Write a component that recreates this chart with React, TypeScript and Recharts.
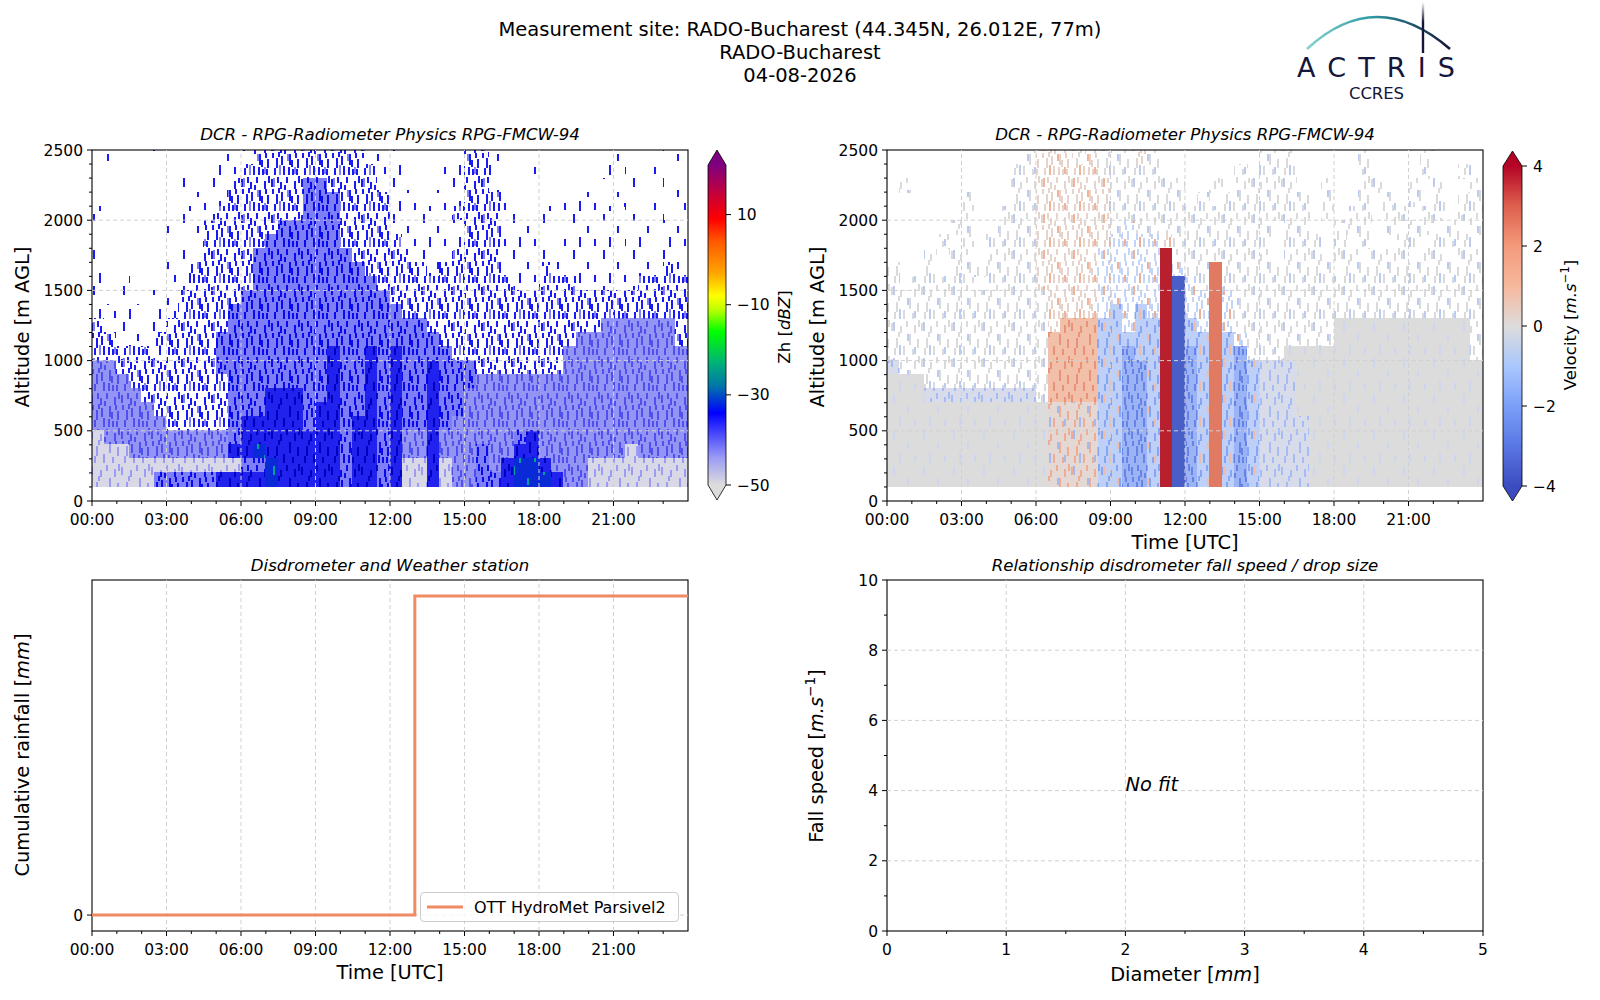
import React from 'react';
import {
  ComposedChart, Line, Scatter, XAxis, YAxis, ReferenceArea, ReferenceLine, Legend,
} from 'recharts';

const FONT = '"DejaVu Sans", sans-serif';
const TICK_FS = 15.5;
const LABEL_FS = 19.4;
const TITLE_FS = 16.6;
const GRID = '#d0d0d0';

// ---- axis ticks ----
const hourMajor = [0, 3, 6, 9, 12, 15, 18, 21];
const hourMinor = [0, 1, 2, 3, 4, 5, 6, 7, 8, 9, 10, 11, 12, 13, 14, 15, 16, 17, 18, 19, 20, 21, 22, 23];
const altMajor = [0, 500, 1000, 1500, 2000, 2500];
const altMinor = [0, 100, 200, 300, 400, 500, 600, 700, 800, 900, 1000, 1100, 1200, 1300, 1400, 1500,
  1600, 1700, 1800, 1900, 2000, 2100, 2200, 2300, 2400, 2500];
const diamMajor = [0, 1, 2, 3, 4, 5];
const diamMinor = [0, 0.5, 1, 1.5, 2, 2.5, 3, 3.5, 4, 4.5, 5];
const speedMajor = [0, 2, 4, 6, 8, 10];
const speedMinor = [0, 1, 2, 3, 4, 5, 6, 7, 8, 9, 10];
const zhTicks = [-50, -30, -10, 10];
const velTicks = [-4, -2, 0, 2, 4];

// ---- radar grid: 30 min x 100 m bins ----
const timeEdges = [0, 0.5, 1, 1.5, 2, 2.5, 3, 3.5, 4, 4.5, 5, 5.5, 6, 6.5, 7, 7.5, 8, 8.5, 9, 9.5, 10, 10.5,
  11, 11.5, 12, 12.5, 13, 13.5, 14, 14.5, 15, 15.5, 16, 16.5, 17, 17.5, 18, 18.5, 19, 19.5, 20, 20.5,
  21, 21.5, 22, 22.5, 23, 23.5, 24];
const altEdges = [2500, 2400, 2300, 2200, 2100, 2000, 1900, 1800, 1700, 1600, 1500, 1400, 1300,
  1200, 1100, 1000, 900, 800, 700, 600, 500, 400, 300, 200, 100];

// reflectivity classes: . none, 1 sparse, 2 scattered, 3 dense, 4 strong, 5 weak grey, 6 lavender, 7 core
const zhRows = [
  '.1..1... ..111222 22222211 1...1.22 1....... ..1..1.1',
  '........ ..112222 22222221 1...1122 1..1.... .1.1.1..',
  '.......1 .1122222 23322221 11.11122 1....... ...1.1.1',
  '........ 11122222 23332222 1.1.1122 21....11 1.1..1.1',
  '1......1 11222222 23332222 11111222 21..1.11 11.1.1.1',
  '......11 12222223 33332222 11111122 21.11.11 1.1.1.11',
  '........ 12222233 33332222 21111122 2111.111 11.11.11',
  '1......1 12222333 33333222 22111222 21111111 11111111',
  '1.....11 22222333 33333322 22212222 21112111 11111121',
  '1.1...11 22222333 33333332 22222222 22112221 11112222',
  '1.1.1112 22223333 33333333 22222222 22222222 22222222',
  '1111.112 22233333 33333333 32222222 22222222 22222222',
  '21111122 22233333 33333333 33322222 22222222 26666662',
  '22111222 22333333 33333333 33332222 22222226 66666662',
  '22222122 22333333 33343343 43333222 22222266 66666666',
  '66222222 22333333 33343343 43343332 22222266 66666666',
  '66622222 22233333 33343343 43343336 66666666 66666666',
  '66662222 22233344 43343343 43343366 66666666 66666666',
  '66666222 22233344 43443343 43343366 66666666 66666666',
  '66666622 22234444 43443443 43343666 66666666 66666666',
  '56666666 66634444 44443443 46646666 66346666 66666666',
  '55566666 66644744 44443443 46646663 66446666 66656666',
  '55555555 55553374 44443443 45545663 64774666 55555555',
  '55555333 33444474 44443443 45545663 34777466 55555555',
];

// velocity classes: s/p/q sparse, g ~0, m slightly negative, k slightly positive,
// b/B negative, D strong negative, r/o positive, R strong positive
const velRows = [
  '........ ...sppps psssps.. ......ss s.....s. ...s....',
  '........ ..sspppp psssss.. ....s.ss s.....s. ...s..s.',
  '.s...... ..sspppp ppssssss ..s.ssss s..s..ss ..s.s..s',
  '......s. ..sspppp ppssssss .s.sssss ss.s..s. s.s.s.ss',
  '......s. .ssspppp ppssssss ssssssss ss.s.ss. ss.ss.ss',
  '.....ss. .ssspppp ppsqssss sssssss. ss..sss. s.ss.s.s',
  '....s.s. sssspppp ppqqqqps sssssss. sss.s.s. .ss.sss.',
  '...s.ss. sssspppp pqqqqqRs sssssss. sss.ss.s ss.ss.ss',
  's..s.sss sssspppp pqqqqqRq ssosssss ssss.sss ssssssss',
  's.sssss. sssspppp pqqqqqRD qsosssss ssssssss ssssssss',
  'ssssssss sssssppp pqqqqqRD qqoqssss ssssssss ssssssss',
  'ssssssss sssssppp pqbqbqRD qqoqssss ssssssss ssssssss',
  'ssssssss sssssprr rbbqbbRD bqoqssss ssssgggg gggggggs',
  'ssssssss sssssrrr rbbbbbRD bbobqsss ssssgggg gggggggs',
  'ssssssss sssssrrr rbbBbbRD BbobBsss gggggggg gggggggs',
  'msssssss sssssrrr rbbBBbRD BbobBbmm mggggggg gggggggg',
  'gggsssss sssssrrr rbbBBbRD BbobBbmm mggggggg gggggggg',
  'gggmmmmm mmmmsrrr rbbBBbRD BbobBbmm mggggggg gggggggg',
  'gggggggg gggggkkk kbbBBbRD BbobBbmm mggggggg gggggggg',
  'gggggggg gggggkkk kbbBBbRD BbobBbmm mmgggggg gggggggg',
  'gggggggg gggggkkk kbbBBbRD BbobBbmm mmgggggg gggggggg',
  'gggggggg gggggkkk kbbBBbRD BbobBbmm mmgggggg gggggggg',
  'gggggggg gggggkkk kbbBBbRD BbobBbmm mmgggggg gggggggg',
  'gggggggg gggggkkk kbbBBbRD BbobBbmm mmgggggg gggggggg',
];

// ---- texture used to paint each class (needle speckle like the radar gates) ----
const NEEDLES_A = [[3, 2, 9], [17, 14, 7], [9, 25, 10], [24, 27, 7]];
const NEEDLES_B = [[1, 3, 8], [6, 18, 10], [10, 6, 7], [13, 26, 9], [16, 1, 6], [19, 14, 11], [22, 29, 6],
  [24, 5, 8], [27, 19, 9], [4, 28, 7], [8, 12, 5], [28, 0, 7]];
const NEEDLES_C = [...NEEDLES_B, [2, 13, 5], [11, 16, 9], [14, 9, 5], [18, 27, 8], [21, 20, 7], [25, 13, 5],
  [26, 29, 6], [7, 1, 6]];

type Texture = { base: string; layers: { set: number[][]; color: string }[] };
const zhTex: Record<string, Texture> = {
  '1': { base: '#ffffff', layers: [{ set: NEEDLES_A, color: '#1a1af4' }] },
  '2': { base: '#ffffff', layers: [{ set: NEEDLES_C, color: '#1a1af4' }, { set: NEEDLES_A, color: '#8080f8' }] },
  '3': { base: '#7e7ef6', layers: [{ set: NEEDLES_C, color: '#0a0aee' }] },
  '4': { base: '#2222ee', layers: [{ set: NEEDLES_B, color: '#0000c0' }] },
  '5': { base: '#d8d8e6', layers: [{ set: NEEDLES_B, color: '#9c9cf2' }] },
  '6': { base: '#9494f4', layers: [{ set: NEEDLES_C, color: '#5050ee' }] },
  '7': { base: '#0a2ad8', layers: [{ set: NEEDLES_A, color: '#00a0a0' }] },
};
const velTex: Record<string, Texture> = {
  s: { base: '#ffffff', layers: [{ set: NEEDLES_B, color: '#dadada' }, { set: NEEDLES_A, color: '#bccbf0' }] },
  p: { base: '#ffffff', layers: [{ set: NEEDLES_C, color: '#e6d4cc' }, { set: NEEDLES_A, color: '#f0b49a' }] },
  q: { base: '#ffffff', layers: [{ set: NEEDLES_C, color: '#c4d4f6' }, { set: NEEDLES_A, color: '#eab09a' }] },
  g: { base: '#dddcdc', layers: [{ set: NEEDLES_A, color: '#cdd6ee' }] },
  m: { base: '#d8dcea', layers: [{ set: NEEDLES_B, color: '#a6bcf4' }] },
  k: { base: '#e4d8d4', layers: [{ set: NEEDLES_B, color: '#f0ac92' }, { set: NEEDLES_A, color: '#a2baf4' }] },
  b: { base: '#bed0f8', layers: [{ set: NEEDLES_B, color: '#86a6f4' }, { set: NEEDLES_A, color: '#f0bca6' }] },
  B: { base: '#9cb4f6', layers: [{ set: NEEDLES_C, color: '#6584e6' }] },
  D: { base: '#4a5ec8', layers: [] },
  r: { base: '#f2c0a8', layers: [{ set: NEEDLES_B, color: '#e8927a' }] },
  o: { base: '#e07a62', layers: [] },
  R: { base: '#b8202e', layers: [] },
};

// ---- colour bars ----
const zhStops = [
  { v: 21, c: '#7f007f' }, { v: 14, c: '#cc0033' }, { v: 9, c: '#ff0000' }, { v: 4, c: '#ff5a00' },
  { v: -3, c: '#ffa500' }, { v: -8, c: '#ffff00' }, { v: -11, c: '#bfff00' }, { v: -16, c: '#00ff00' },
  { v: -23, c: '#00b07a' }, { v: -28, c: '#0077a8' }, { v: -34, c: '#0000ff' }, { v: -44, c: '#9c9cf6' },
  { v: -50, c: '#dcdcdc' },
];
const velStops = [
  { v: 4, c: '#b40426' }, { v: 3, c: '#de604d' }, { v: 2, c: '#f49a7b' }, { v: 1, c: '#f7b89c' },
  { v: 0, c: '#dddcdc' }, { v: -1, c: '#aac7fd' }, { v: -2, c: '#7b9ff9' }, { v: -3, c: '#5977e3' },
  { v: -4, c: '#3b4cc0' },
];

// ---- disdrometer cumulative rainfall ----
const rainTimes = [0, 13, 24];
const rainCum = [0, 0.1, 0.1];
const rainData = rainTimes.map((t, i) => ({ t, v: rainCum[i] }));

// ---- fall speed / diameter: no fit, only the note ----
const fitNote = [{ d: 2, s: 4, text: 'No fit' }];

type Cell = { x1: number; x2: number; y1: number; y2: number; fill: string };

function buildCells(rows: string[], prefix: string, tex: Record<string, Texture>): Cell[] {
  const out: Cell[] = [];
  const n = timeEdges.length - 1;
  rows.forEach((raw, r) => {
    const row = raw.replace(/ /g, '');
    let c = 0;
    while (c < n) {
      const ch = row[c] ?? '.';
      let e = c + 1;
      while (e < n && (row[e] ?? '.') === ch) e++;
      if (tex[ch]) {
        out.push({ x1: timeEdges[c], x2: timeEdges[e], y1: altEdges[r + 1], y2: altEdges[r], fill: `url(#${prefix}-${ch})` });
      }
      c = e;
    }
  });
  return out;
}

const zhCells = buildCells(zhRows, 'tzh', zhTex);
const velCells = buildCells(velRows, 'tvel', velTex);

function Textures() {
  const pats: React.ReactNode[] = [];
  const add = (prefix: string, tex: Record<string, Texture>) => {
    Object.entries(tex).forEach(([k, t]) => {
      pats.push(
        <pattern key={prefix + k} id={`${prefix}-${k}`} patternUnits="userSpaceOnUse" width={30} height={36}>
          <rect x={0} y={0} width={30} height={36} fill={t.base} />
          {t.layers.map((l, li) => l.set.map(([x, y, h], ni) => (
            <rect key={li + '-' + ni} x={x} y={y} width={2} height={h} fill={l.color} />
          )))}
        </pattern>,
      );
    });
  };
  add('tzh', zhTex);
  add('tvel', velTex);
  return (
    <svg width={0} height={0} style={{ position: 'absolute' }}>
      <defs>{pats}</defs>
    </svg>
  );
}

const minus = (v: number) => (v < 0 ? '\u2212' + Math.abs(v) : String(v));
const fmtHour = (v: number) => String(v).padStart(2, '0') + ':00';

const xTick = (major: number[], fmt: (v: number) => string) => (p: any) => {
  const v = p.payload.value;
  const isMaj = major.includes(v);
  return (
    <g>
      <line x1={p.x} x2={p.x} y1={p.y} y2={p.y + (isMaj ? 5 : 3)} stroke="#000" strokeWidth={1} />
      {isMaj && (
        <text x={p.x} y={p.y + 24} textAnchor="middle" fontSize={TICK_FS} fontFamily={FONT} fill="#000">{fmt(v)}</text>
      )}
    </g>
  );
};

const yTick = (major: number[], fmt: (v: number) => string) => (p: any) => {
  const v = p.payload.value;
  const isMaj = major.includes(v);
  return (
    <g>
      <line x1={p.x - (isMaj ? 5 : 3)} x2={p.x} y1={p.y} y2={p.y} stroke="#000" strokeWidth={1} />
      {isMaj && (
        <text x={p.x - 9} y={p.y + 5.6} textAnchor="end" fontSize={TICK_FS} fontFamily={FONT} fill="#000">{fmt(v)}</text>
      )}
    </g>
  );
};

const cbTick = (p: any) => (
  <g>
    <line x1={p.x} x2={p.x + 5} y1={p.y} y2={p.y} stroke="#000" strokeWidth={1} />
    <text x={p.x + 11} y={p.y + 5.6} textAnchor="start" fontSize={TICK_FS} fontFamily={FONT} fill="#000">{minus(p.payload.value)}</text>
  </g>
);

const cellShape = (p: any) => {
  const x0 = Math.floor(p.x);
  const y0 = Math.floor(p.y);
  return (
    <rect x={x0} y={y0} width={Math.ceil(p.x + p.width) - x0} height={Math.ceil(p.y + p.height) - y0}
      fill={p.fill} shapeRendering="crispEdges" />
  );
};

const frameShape = (p: any) => (
  <rect x={p.x} y={p.y} width={p.width} height={p.height} fill="none" stroke="#000" strokeWidth={1.1} />
);

function gridLines(xs: number[], ys: number[]) {
  return [
    ...xs.map((x) => <ReferenceLine key={'gx' + x} x={x} stroke={GRID} strokeDasharray="4 3" strokeWidth={1} />),
    ...ys.map((y) => <ReferenceLine key={'gy' + y} y={y} stroke={GRID} strokeDasharray="4 3" strokeWidth={1} />),
  ];
}

function RadarPanel({ left, yw, mr, cells }: { left: number; yw: number; mr: number; cells: Cell[] }) {
  // cell centres give both axes something to measure
  const centres = cells.map((c) => ({ t: (c.x1 + c.x2) / 2, a: (c.y1 + c.y2) / 2 }));
  return (
    <div style={{ position: 'absolute', left, top: 140 }}>
      <ComposedChart width={700} height={400} data={centres} margin={{ top: 10, right: mr, left: 0, bottom: 0 }}>
        <XAxis type="number" dataKey="t" domain={[0, 24]} ticks={hourMinor} interval={0} tickSize={0} tickMargin={0}
          axisLine={false} tickLine={false} height={39} tick={xTick(hourMajor, fmtHour)} allowDataOverflow />
        <YAxis type="number" dataKey="a" domain={[0, 2500]} ticks={altMinor} interval={0} tickSize={0} tickMargin={0}
          axisLine={false} tickLine={false} width={yw} tick={yTick(altMajor, String)} allowDataOverflow />
        {cells.map((c, i) => (
          <ReferenceArea key={i} x1={c.x1} x2={c.x2} y1={c.y1} y2={c.y2} fill={c.fill} shape={cellShape} ifOverflow="visible" />
        ))}
        {gridLines([3, 6, 9, 12, 15, 18, 21], [500, 1000, 1500, 2000])}
        <ReferenceArea x1={0} x2={24} y1={0} y2={2500} shape={frameShape} ifOverflow="visible" />
      </ComposedChart>
    </div>
  );
}

function Colorbar({ left, w, mt, yw, domain, ticks, stops, over, under, id }: {
  left: number; w: number; mt: number; yw: number; domain: [number, number]; ticks: number[];
  stops: { v: number; c: string }[]; over: string; under: string; id: string;
}) {
  const span = domain[1] - domain[0];
  const data = stops.map((s) => ({ x: 0.5, v: s.v }));
  const barShape = (p: any) => {
    const { x, y, width, height } = p;
    const tri = 15;
    const outline = `${x},${y} ${x + width / 2},${y - tri} ${x + width},${y} ${x + width},${y + height} ${x + width / 2},${y + height + tri} ${x},${y + height}`;
    return (
      <g>
        <defs>
          <linearGradient id={id} x1="0" y1="0" x2="0" y2="1">
            {stops.map((s) => (
              <stop key={s.v} offset={(domain[1] - s.v) / span} stopColor={s.c} />
            ))}
          </linearGradient>
        </defs>
        <rect x={x} y={y} width={width} height={height} fill={`url(#${id})`} />
        <polygon points={`${x},${y} ${x + width},${y} ${x + width / 2},${y - tri}`} fill={over} />
        <polygon points={`${x},${y + height} ${x + width},${y + height} ${x + width / 2},${y + height + tri}`} fill={under} />
        <polygon points={outline} fill="none" stroke="#000" strokeWidth={0.8} />
      </g>
    );
  };
  return (
    <div style={{ position: 'absolute', left, top: 140 }}>
      <ComposedChart width={8 + w + yw} height={380} data={data} margin={{ top: mt, right: 0, left: 8, bottom: 380 - mt - 320 }}>
        <XAxis type="number" dataKey="x" domain={[0, 1]} hide />
        <YAxis type="number" dataKey="v" orientation="right" domain={domain} ticks={ticks} interval={0} tickSize={0} tickMargin={0}
          axisLine={false} tickLine={false} width={yw} tick={cbTick} />
        <ReferenceArea x1={0} x2={1} y1={domain[0]} y2={domain[1]} shape={barShape} ifOverflow="visible" />
      </ComposedChart>
    </div>
  );
}

const legendContent = (p: any) => {
  const item = p.payload?.[0];
  return (
    <div style={{
      width: 259, height: 30, boxSizing: 'border-box', border: '1px solid #cccccc', borderRadius: 4,
      background: 'rgba(255,255,255,0.8)', display: 'flex', alignItems: 'center', fontFamily: FONT, fontSize: 16,
    }}>
      <svg width={36} height={4} style={{ marginLeft: 6 }}>
        <line x1={0} x2={36} y1={2} y2={2} stroke={item?.color ?? '#ef8a62'} strokeWidth={3} />
      </svg>
      <span style={{ marginLeft: 11, whiteSpace: 'nowrap' }}>{item?.value}</span>
    </div>
  );
};

function RainPanel() {
  const lo = Math.min(...rainCum);
  const hi = Math.max(...rainCum);
  const pad = (hi - lo) * 0.05;
  return (
    <div style={{ position: 'absolute', left: 0, top: 570 }}>
      <ComposedChart width={700} height={400} data={rainData} margin={{ top: 10, right: 12, left: 0, bottom: 0 }}>
        <XAxis type="number" dataKey="t" domain={[0, 24]} ticks={hourMinor} interval={0} tickSize={0} tickMargin={0}
          axisLine={false} tickLine={false} height={39} tick={xTick(hourMajor, fmtHour)} />
        <YAxis type="number" domain={[lo - pad, hi + pad]} ticks={[0]} interval={0} tickSize={0} tickMargin={0}
          axisLine={false} tickLine={false} width={92} tick={yTick([0], String)} />
        {gridLines([3, 6, 9, 12, 15, 18, 21], [0])}
        <Line type="stepAfter" dataKey="v" name="OTT HydroMet Parsivel2" stroke="#ef8a62" strokeWidth={3}
          dot={false} isAnimationActive={false} />
        <ReferenceArea x1={0} x2={24} y1={lo - pad} y2={hi + pad} shape={frameShape} ifOverflow="visible" />
        <Legend layout="horizontal" verticalAlign="middle" align="center" content={legendContent}
          wrapperStyle={{ left: 420, top: 322, width: 259 }} />
      </ComposedChart>
    </div>
  );
}

function FitPanel() {
  const noFit = (p: any) => (
    <text x={p.cx} y={p.cy} fontSize={LABEL_FS} fontStyle="italic" fontFamily={FONT} fill="#000">{p.payload?.text}</text>
  );
  return (
    <div style={{ position: 'absolute', left: 800, top: 570 }}>
      <ComposedChart width={700} height={400} data={fitNote} margin={{ top: 10, right: 17, left: 0, bottom: 0 }}>
        <XAxis type="number" dataKey="d" domain={[0, 5]} ticks={diamMinor} interval={0} tickSize={0} tickMargin={0}
          axisLine={false} tickLine={false} height={39} tick={xTick(diamMajor, String)} />
        <YAxis type="number" dataKey="s" domain={[0, 10]} ticks={speedMinor} interval={0} tickSize={0} tickMargin={0}
          axisLine={false} tickLine={false} width={87} tick={yTick(speedMajor, String)} />
        {gridLines([1, 2, 3, 4], [2, 4, 6, 8])}
        <Scatter data={fitNote} dataKey="s" shape={noFit} isAnimationActive={false} />
        <ReferenceArea x1={0} x2={5} y1={0} y2={10} shape={frameShape} ifOverflow="visible" />
      </ComposedChart>
    </div>
  );
}

function Txt({ x, y, size, rotate = false, italic = false, children }: {
  x: number; y: number; size: number; rotate?: boolean; italic?: boolean; children: React.ReactNode;
}) {
  return (
    <div style={{
      position: 'absolute', left: x, top: y, whiteSpace: 'nowrap', lineHeight: 1.2, fontSize: size,
      fontStyle: italic ? 'italic' : 'normal',
      transform: `translate(-50%, -50%)${rotate ? ' rotate(-90deg)' : ''}`,
    }}>
      {children}
    </div>
  );
}

function Logo() {
  return (
    <svg width={1600} height={110} style={{ position: 'absolute', left: 0, top: 0 }}>
      <defs>
        <linearGradient id="arcGrad" x1="1307" y1="0" x2="1450" y2="0" gradientUnits="userSpaceOnUse">
          <stop offset="0" stopColor="#86d4d0" />
          <stop offset="0.45" stopColor="#2f9aa2" />
          <stop offset="1" stopColor="#15163a" />
        </linearGradient>
        <linearGradient id="mastGrad" x1="0" y1="2" x2="0" y2="53" gradientUnits="userSpaceOnUse">
          <stop offset="0" stopColor="#15163a" stopOpacity="0" />
          <stop offset="0.4" stopColor="#15163a" />
          <stop offset="1" stopColor="#15163a" />
        </linearGradient>
      </defs>
      <path d="M 1307 49 Q 1376 -15 1450 49" fill="none" stroke="url(#arcGrad)" strokeWidth={2.6} />
      <line x1={1423} x2={1423} y1={2} y2={53} stroke="url(#mastGrad)" strokeWidth={2.4} />
      <text x={1297} y={77} fontSize={27} fontFamily={FONT} fill="#15163a" textLength={158} lengthAdjust="spacing">ACTRIS</text>
      <text x={1349} y={99} fontSize={16.5} fontFamily={FONT} fill="#15163a" textLength={55} lengthAdjust="spacing">CCRES</text>
    </svg>
  );
}

export default function App() {
  const units = (s: string) => <i>{s}</i>;
  return (
    <div style={{
      position: 'absolute', left: 0, top: 0, width: 1600, height: 1000, background: '#fff',
      fontFamily: FONT, color: '#000', overflow: 'hidden',
    }}>
      <Textures />
      <Logo />
      <Txt x={800} y={30} size={19.5}>Measurement site: RADO-Bucharest (44.345N, 26.012E, 77m)</Txt>
      <Txt x={800} y={53} size={19.5}>RADO-Bucharest</Txt>
      <Txt x={800} y={76} size={19.5}>04-08-2026</Txt>

      <Txt x={390} y={135} size={TITLE_FS} italic>DCR - RPG-Radiometer Physics RPG-FMCW-94</Txt>
      <Txt x={1185} y={135} size={TITLE_FS} italic>DCR - RPG-Radiometer Physics RPG-FMCW-94</Txt>
      <Txt x={390} y={566} size={TITLE_FS} italic>Disdrometer and Weather station</Txt>
      <Txt x={1185} y={566} size={TITLE_FS} italic>Relationship disdrometer fall speed / drop size</Txt>

      <RadarPanel left={0} yw={92} mr={12} cells={zhCells} />
      <RadarPanel left={800} yw={87} mr={17} cells={velCells} />
      <Colorbar left={700} w={18} mt={25} yw={74} domain={[-50, 21]} ticks={zhTicks} stops={zhStops}
        over="#7f007f" under="#dcdcdc" id="zhGrad" />
      <Colorbar left={1495} w={19} mt={26} yw={78} domain={[-4, 4]} ticks={velTicks} stops={velStops}
        over="#b40426" under="#3b4cc0" id="velGrad" />
      <RainPanel />
      <FitPanel />

      <Txt x={23} y={327} size={LABEL_FS} rotate>Altitude [m AGL]</Txt>
      <Txt x={818} y={327} size={LABEL_FS} rotate>Altitude [m AGL]</Txt>
      <Txt x={785} y={327} size={TITLE_FS} rotate>Zh [{units('dBZ')}]</Txt>
      <Txt x={1570} y={325} size={TITLE_FS} rotate>Velocity [{units('m.s')}<sup style={{ fontSize: '0.7em' }}>{'\u22121'}</sup>]</Txt>
      <Txt x={1185} y={543} size={LABEL_FS}>Time [UTC]</Txt>
      <Txt x={23} y={755} size={LABEL_FS} rotate>Cumulative rainfall [{units('mm')}]</Txt>
      <Txt x={390} y={973} size={LABEL_FS}>Time [UTC]</Txt>
      <Txt x={815} y={756} size={LABEL_FS} rotate>Fall speed [{units('m.s')}<sup style={{ fontSize: '0.7em' }}>{'\u22121'}</sup>]</Txt>
      <Txt x={1185} y={975} size={LABEL_FS}>Diameter [{units('mm')}]</Txt>
    </div>
  );
}
